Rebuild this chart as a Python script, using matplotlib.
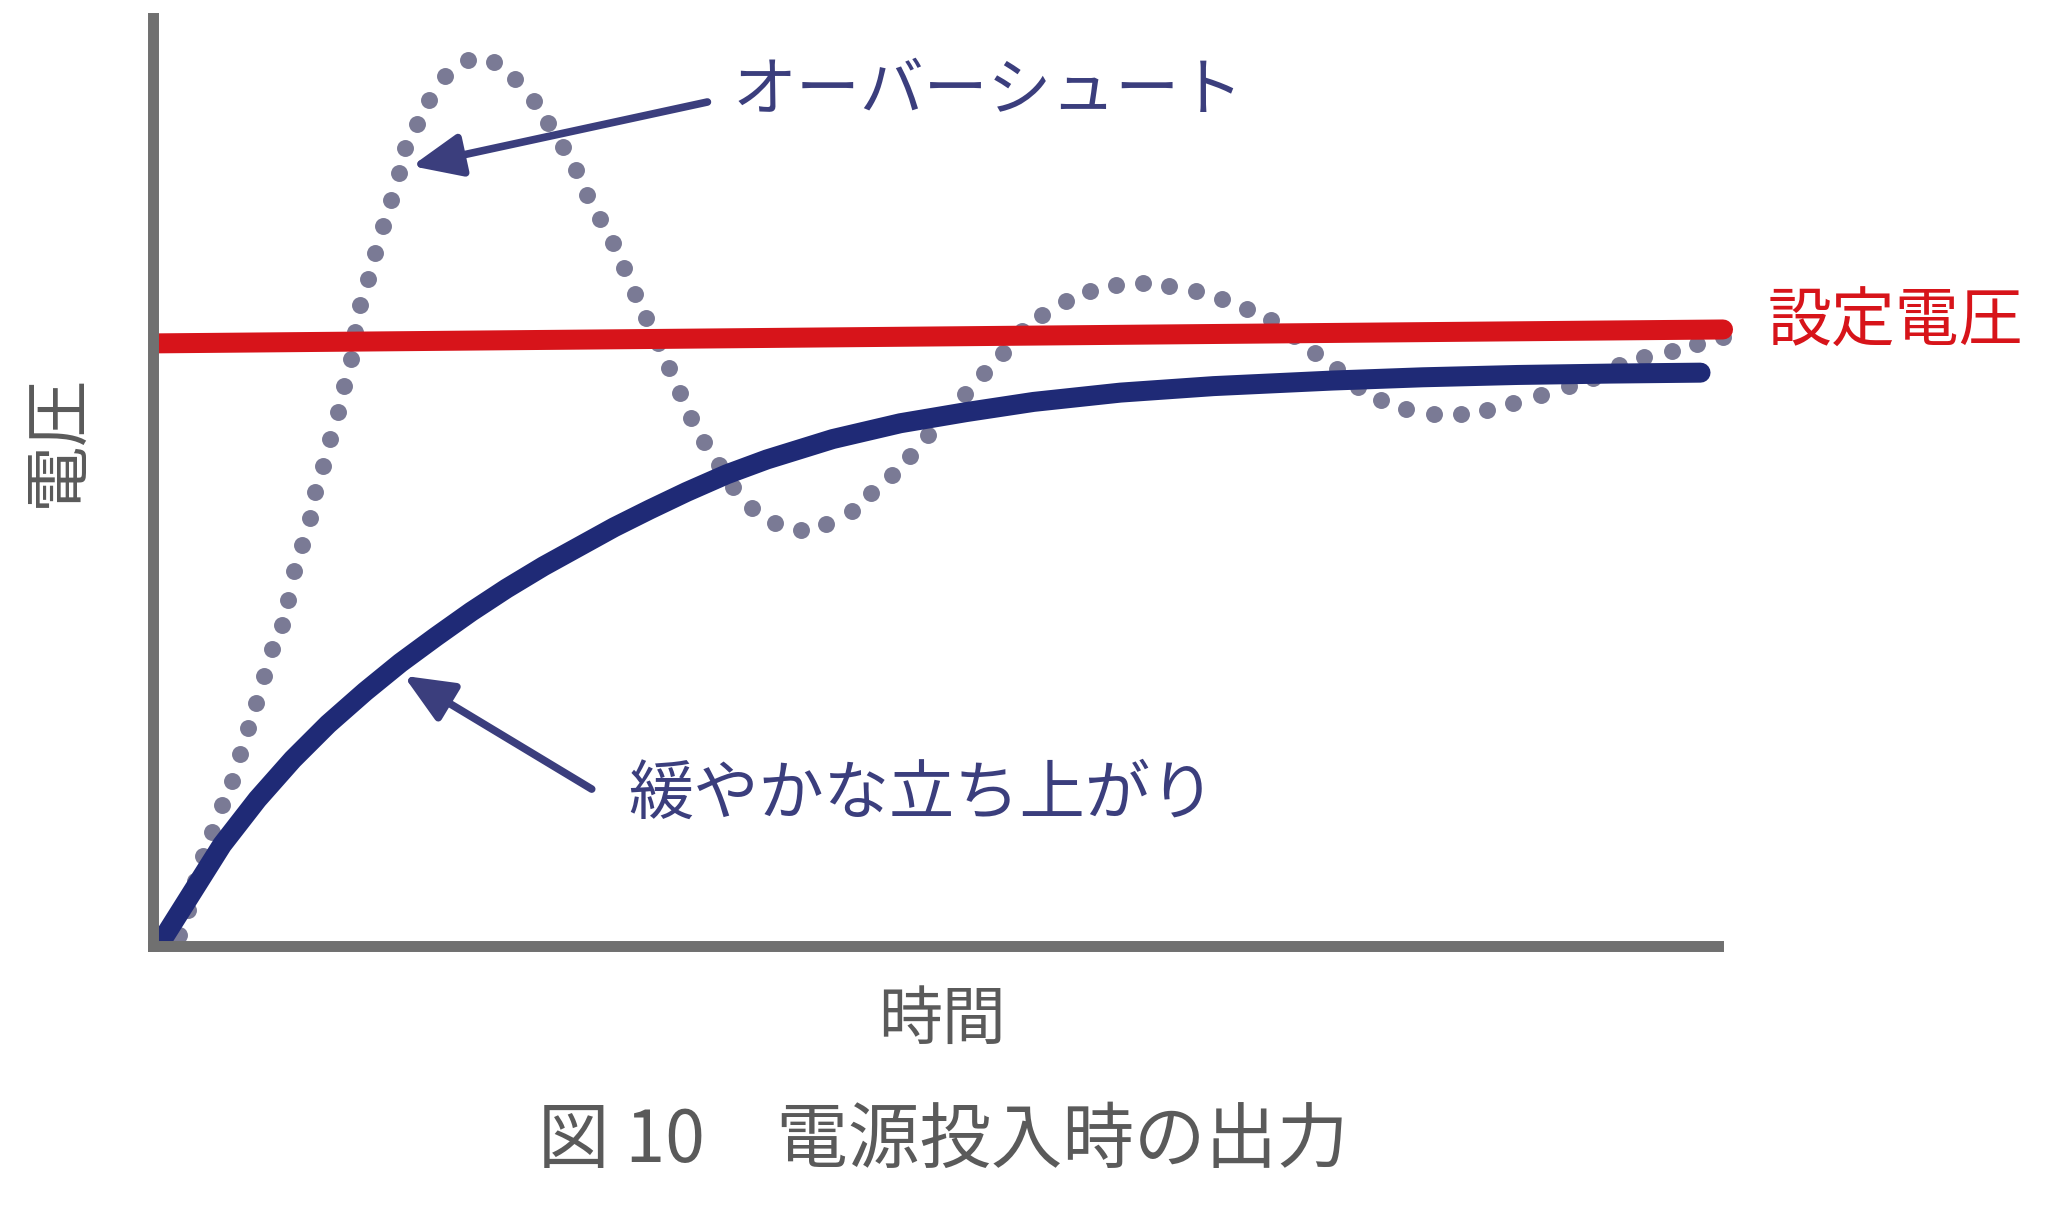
import numpy as np
import matplotlib
matplotlib.use("Agg")
from matplotlib import pyplot as plt

plt.rcParams['font.family'] = ['Noto Sans CJK JP', 'DejaVu Sans']

# data (time and voltage in relative units, axis spans 0..100)
# overshooting response, one value per dot
overshoot_t = [1.6, 2.2, 2.6, 3.1, 3.7, 4.3, 4.9, 5.4, 5.9, 6.4, 6.9, 7.4, 8.0, 8.4,
               8.8, 9.3, 9.8, 10.1, 10.6, 11.0, 11.5, 11.9, 12.3, 12.6, 12.9, 13.4, 13.8,
               14.3, 14.8, 15.3, 15.7, 16.4, 17.2, 18.2, 19.6, 21.2, 22.5, 23.7, 24.6,
               25.5, 26.3, 27.0, 27.8, 28.6, 29.3, 30.0, 30.7, 31.4, 32.1, 32.8, 33.5,
               34.3, 35.2, 36.1, 37.3, 38.7, 40.3, 41.9, 43.5, 44.7, 46.0, 47.1, 48.2,
               49.4, 50.5, 51.7, 52.9, 54.1, 55.3, 56.8, 58.3, 59.9, 61.6, 63.2, 64.9,
               66.5, 68.1, 69.6, 71.0, 72.3, 73.7, 75.0, 76.4, 78.0, 79.7, 81.4, 83.0,
               84.6, 86.4, 88.1, 89.6, 91.2, 92.8, 94.5, 96.1, 97.7]
overshoot_v = [1.2, 3.9, 7.0, 9.7, 12.3, 15.2, 17.8, 20.7, 23.5, 26.2, 29.1, 32.0, 34.6, 37.3,
               40.4, 43.2, 46.1, 48.9, 51.7, 54.6, 57.5, 60.3, 63.2, 66.1, 69.0, 71.8, 74.6,
               77.5, 80.3, 83.2, 85.9, 88.5, 91.1, 93.7, 95.4, 95.2, 93.4, 91.0, 88.6,
               86.0, 83.6, 80.9, 78.3, 75.7, 73.0, 70.2, 67.6, 64.9, 62.2, 59.6, 56.9,
               54.3, 51.8, 49.4, 47.2, 45.6, 44.8, 45.4, 46.8, 48.8, 50.7, 52.8, 55.0,
               57.3, 59.4, 61.7, 63.9, 66.2, 68.0, 69.5, 70.5, 71.2, 71.4, 71.1, 70.5,
               69.7, 68.6, 67.4, 65.7, 63.9, 62.1, 60.2, 58.8, 57.8, 57.3, 57.3, 57.7,
               58.5, 59.3, 60.3, 61.2, 62.6, 63.4, 64.1, 64.8, 65.6]

# slow rise
slow_t = [0.3, 0.7, 4.3, 6.5, 8.7, 10.9, 13.2, 15.4, 17.6, 19.8, 22.0, 24.3, 26.5,
          28.7, 30.9, 33.2, 35.7, 38.2, 42.3, 46.5, 50.6, 54.8, 60.2, 66.0, 73.4,
          79.0, 84.9, 90.7, 96.3]
slow_v = [0.0, 1.0, 10.9, 15.8, 20.1, 23.9, 27.4, 30.5, 33.3, 36.0, 38.5, 40.9, 43.0,
          45.1, 47.0, 48.9, 50.8, 52.4, 54.6, 56.3, 57.5, 58.6, 59.6, 60.3, 60.9,
          61.25, 61.5, 61.65, 61.75]

# set voltage line (start, end)
setpoint_t = [0.0, 97.7]
setpoint_v = [64.9, 66.4]

x_axis_end = 97.4

navy = "#1f2a76"
label_navy = "#3b3e7d"
red = "#d7141a"
dot_gray = "#7a7a95"
axis_gray = "#707070"
text_gray = "#5a5a5a"

W, H = 2072, 1208
fig = plt.figure(figsize=(W / 100, H / 100), dpi=100)
ax = fig.add_axes([153 / W, (H - 946) / H, (1760 - 153) / W, (946 - 17.5) / H])
ax.set_xlim(0, 100)
ax.set_ylim(0, 100)
ax.set_xticks([])
ax.set_yticks([])
for side in ["top", "right"]:
    ax.spines[side].set_visible(False)
for side in ["left", "bottom"]:
    ax.spines[side].set_linewidth(7.9)
    ax.spines[side].set_color(axis_gray)
ax.spines["bottom"].set_bounds(0, x_axis_end)

ax.plot(overshoot_t, overshoot_v, "o", ms=12.2, color=dot_gray, mec="none", zorder=1)
ax.plot(slow_t, slow_v, color=navy, lw=14.4, solid_capstyle="round", solid_joinstyle="round", zorder=2)
ax.plot(setpoint_t, setpoint_v, color=red, lw=14.4, solid_capstyle="round", zorder=2.2)

arrow_kw = dict(arrowstyle="-|>,head_length=30,head_width=13", color=label_navy, lw=5.5,
                shrinkA=0, shrinkB=0, mutation_scale=1)
ax.annotate("", xy=(16.1, 84.0), xytext=(34.5, 90.9), arrowprops=arrow_kw, annotation_clip=False)
ax.annotate("", xy=(15.6, 29.1), xytext=(27.3, 16.9), arrowprops=arrow_kw, annotation_clip=False)

fs = 46
fig.text(733 / W, 1 - 92 / H, "オーバーシュート", color=label_navy, fontsize=fs, ha="left", va="center")
fig.text(628 / W, 1 - 796 / H, "緩やかな立ち上がり", color=label_navy, fontsize=47, ha="left", va="center")
fig.text(1768 / W, 1 - 323 / H, "設定電圧", color=red, fontsize=fs, ha="left", va="center")
fig.text(942 / W, 1 - 1021 / H, "時間", color=text_gray, fontsize=fs, ha="center", va="center")
fig.text(58 / W, 1 - 440 / H, "電圧", color=text_gray, fontsize=48, ha="center", va="center", rotation=90)
fig.text(943 / W, 1 - 1141 / H, "図 10\u3000電源投入時の出力", color=text_gray, fontsize=51.5,
         ha="center", va="center")

fig.savefig("out.png", dpi=100, facecolor="white")
